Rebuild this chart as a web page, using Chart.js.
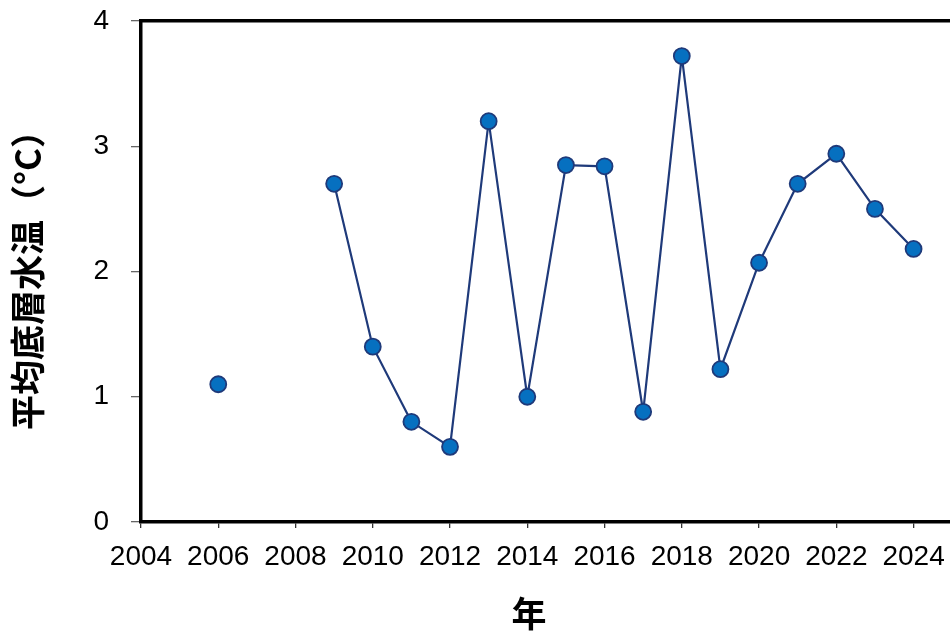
<!DOCTYPE html>
<html>
<head>
<meta charset="utf-8">
<script src="https://cdn.jsdelivr.net/npm/chart.js@4"></script>
<style>
  html, body { margin: 0; padding: 0; background: #fff; overflow: hidden; }
  #wrap { width: 962px; height: 635px; }
</style>
</head>
<body>
<div id="wrap"><canvas id="c"></canvas></div>
<script>
// 年と平均底層水温（2007, 2008 は欠測）
const years = [2006, 2007, 2008, 2009, 2010, 2011, 2012, 2013, 2014, 2015, 2016, 2017, 2018, 2019, 2020, 2021, 2022, 2023, 2024];
const temps = [1.1, null, null, 2.7, 1.4, 0.8, 0.6, 3.2, 1.0, 2.85, 2.84, 0.88, 3.72, 1.22, 2.07, 2.7, 2.94, 2.5, 2.18];
const xTicks = [2004, 2006, 2008, 2010, 2012, 2014, 2016, 2018, 2020, 2022, 2024];
const yTicks = [0, 1, 2, 3, 4];

const tickFont = { family: "'Liberation Sans', Arial, sans-serif", size: 28 };
const titleFont = { family: "'Noto Sans CJK JP', sans-serif", size: 35, weight: "bold" };

const points = years.map((y, i) => ({ x: y, y: temps[i] }));

new Chart(document.getElementById("c"), {
  type: "line",
  data: {
    datasets: [{
      data: points,
      borderColor: "#1f3a7a",
      borderWidth: 2.2,
      pointBackgroundColor: "#0670c0",
      pointBorderColor: "#1f3a7a",
      pointBorderWidth: 1.8,
      pointRadius: 8,
      spanGaps: false,
      tension: 0
    }]
  },
  options: {
    responsive: true,
    maintainAspectRatio: false,
    animation: false,
    layout: { padding: { top: 21, left: 0, right: 0, bottom: 0 } },
    plugins: { legend: { display: false }, tooltip: { enabled: false } },
    scales: {
      x: {
        type: "linear",
        min: 2004,
        max: 2025,
        afterBuildTicks: s => { s.ticks = xTicks.map(v => ({ value: v })); },
        afterFit: s => { s.height = 113; s.paddingLeft = 0; s.paddingRight = 0; },
        grid: { drawOnChartArea: false, drawTicks: true, tickLength: 6, color: "#333", lineWidth: 1.3 },
        border: { display: true, color: "#000", width: 3.5 },
        ticks: { color: "#000", font: tickFont, padding: 12, maxRotation: 0, callback: v => String(v) },
        title: { display: true, text: "年　", color: "#000", font: titleFont, padding: { top: 0, bottom: 0 } }
      },
      xTop: {
        type: "linear",
        position: "top",
        min: 2004,
        max: 2025,
        afterFit: s => { s.height = 0; s.paddingLeft = 0; s.paddingRight = 0; },
        grid: { display: false, drawTicks: false },
        border: { display: true, color: "#000", width: 3.5 },
        ticks: { display: false }
      },
      y: {
        min: 0,
        max: 4,
        afterBuildTicks: s => { s.ticks = yTicks.map(v => ({ value: v })); },
        afterFit: s => { s.width = 141; s.paddingTop = 0; s.paddingBottom = 0; },
        grid: { drawOnChartArea: false, drawTicks: true, tickLength: 10, color: "#666", lineWidth: 1.3 },
        border: { display: true, color: "#000", width: 3.5 },
        ticks: { color: "#000", font: tickFont, padding: 22 },
        title: { display: true, text: "平均底層水温（°C）", color: "#000", font: titleFont, padding: { top: 7, bottom: 0 } }
      }
    }
  }
});
</script>
</body>
</html>
